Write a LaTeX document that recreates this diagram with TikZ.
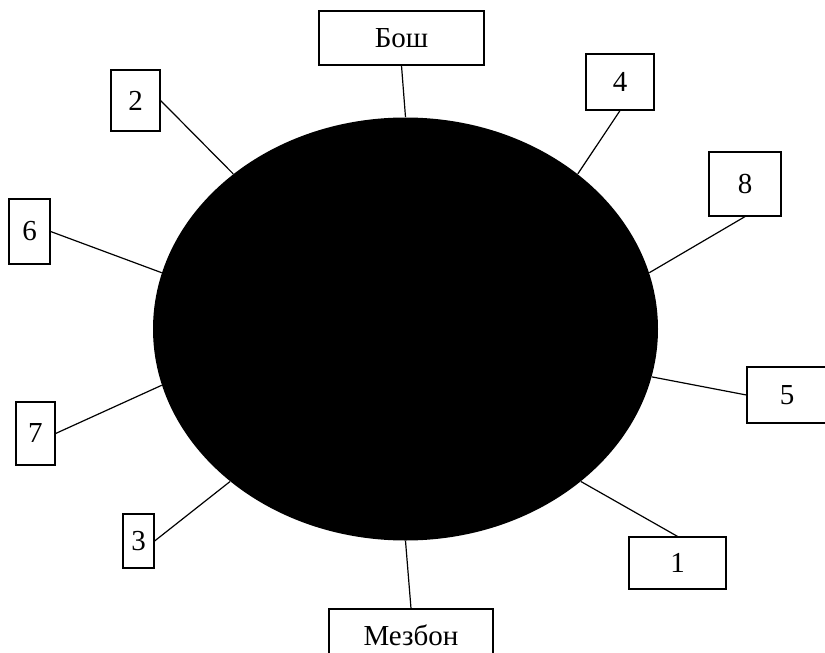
\documentclass[tikz,border=0pt]{standalone}
\usepackage{fontspec}
\setmainfont{Liberation Serif}
\usetikzlibrary{shapes.geometric}

\begin{document}
\begin{tikzpicture}[
  x=0.5pt, y=-0.5pt,
  labelbox/.style={draw, rectangle, line width=0.6pt, inner sep=0pt,
  font=\fontsize{14.5}{17}\selectfont},
  spoke/.style={draw, line width=0.6pt},
  body/.style={ellipse, fill=black, inner sep=0pt, minimum width=252.5pt,
  minimum height=211.5pt}
]
\useasboundingbox (0,0) rectangle (825,653);
\node[body] (core) at (405.5,329) {};

\node[labelbox, minimum width=82.5pt, minimum height=27pt] (bosh) at (401.5,38) {Бош};
\node[labelbox, minimum width=24.5pt, minimum height=30.5pt] (n2) at (135.5,100.5) {2};
\node[labelbox, minimum width=34pt, minimum height=28pt] (n4) at (620,82) {4};
\node[labelbox, minimum width=36pt, minimum height=32pt] (n8) at (745,184) {8};
\node[labelbox, minimum width=20.5pt, minimum height=32.5pt] (n6) at (29.5,231.5) {6};
\node[labelbox, minimum width=40pt, minimum height=28pt] (n5) at (787,395) {5};
\node[labelbox, minimum width=19.5pt, minimum height=31.5pt] (n7) at (35.5,433.5) {7};
\node[labelbox, minimum width=15.5pt, minimum height=27pt] (n3) at (138.5,541) {3};
\node[labelbox, minimum width=48.5pt, minimum height=26pt] (n1) at (677.5,563) {1};
\node[labelbox, minimum width=82pt, minimum height=26pt] (mezbon) at (411,635) {Мезбон};

\draw[spoke] (bosh.south) -- (core.90);
\draw[spoke] (n2.east) -- (core.138);
\draw[spoke] (n4.south) -- (core.42);
\draw[spoke] (n8.south) -- (core.13);
\draw[spoke] (n6.east) -- (core.167);
\draw[spoke] (n5.west) -- (core.-11);
\draw[spoke] (n7.east) -- (core.-167.5);
\draw[spoke] (n3.east) -- (core.-139);
\draw[spoke] (n1.north) -- (core.-41.5);
\draw[spoke] (mezbon.north) -- (core.-90);

\end{tikzpicture}
\end{document}
